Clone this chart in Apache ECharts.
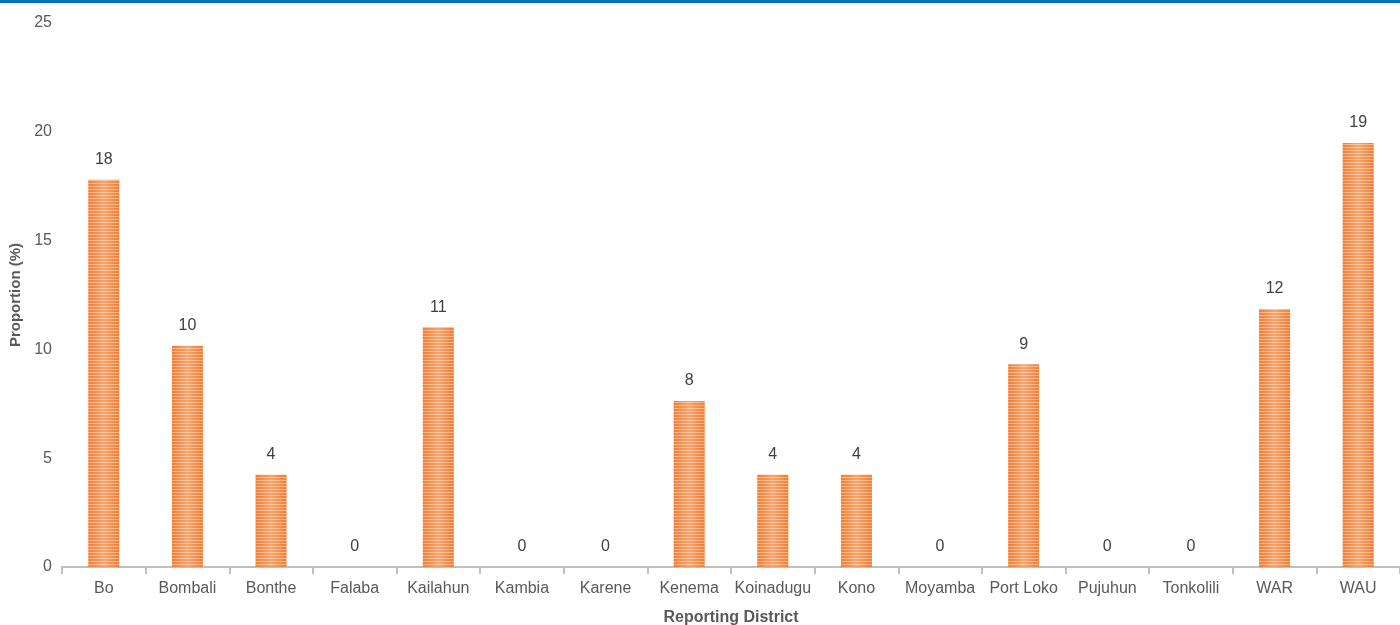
<!DOCTYPE html>
<html><head><meta charset="utf-8">
<script src="https://cdn.jsdelivr.net/npm/echarts@6/dist/echarts.min.js"></script>
<style>html,body{margin:0;padding:0;background:#fff}#c{width:1400px;height:625px}</style>
</head><body><div id="c"></div>
<script>
const districts = ['Bo','Bombali','Bonthe','Falaba','Kailahun','Kambia','Karene','Kenema','Koinadugu','Kono','Moyamba','Port Loko','Pujuhun','Tonkolili','WAR','WAU'];
const proportions = [17.80, 10.17, 4.24, 0, 11.02, 0, 0, 7.63, 4.24, 4.24, 0, 9.32, 0, 0, 11.86, 19.49];
const yTicks = [0, 5, 10, 15, 20, 25];

const chart = echarts.init(document.getElementById('c'), null, {renderer:'canvas'});
chart.setOption({
  animation: false,
  graphic: [{type:'rect', left:0, top:0, shape:{width:1400, height:3}, style:{fill:'#0070C0'}}],
  grid: {left:62, right:0, top:23, bottom:58, containLabel:false, outerBoundsMode:'none'},
  xAxis: {
    type:'category', data: districts,
    name:'Reporting District', nameLocation:'middle', nameGap:43,
    nameTextStyle:{fontFamily:'Liberation Sans', fontWeight:'bold', fontSize:16, color:'#595959'},
    axisLine:{lineStyle:{color:'#bfbfbf', width:2}},
    axisTick:{show:true, length:7, lineStyle:{color:'#bfbfbf', width:2}},
    axisLabel:{fontFamily:'Liberation Sans', fontSize:16, color:'#595959', margin:14, interval:0}
  },
  yAxis: {
    type:'value', min:yTicks[0], max:yTicks[yTicks.length-1], interval:5,
    name:'Proportion (%)', nameLocation:'middle', nameGap:34, nameRotate:90,
    nameTextStyle:{fontFamily:'Liberation Sans', fontWeight:'bold', fontSize:15, color:'#595959'},
    axisLine:{show:false}, axisTick:{show:false}, splitLine:{show:false},
    axisLabel:{fontFamily:'Liberation Sans', fontSize:16, color:'#595959', margin:10}
  },
  series: [{
    type:'bar', data: proportions, barWidth:31,
    itemStyle:{
      color: new echarts.graphic.LinearGradient(0,0,1,0,[
        {offset:0, color:'#F07D32'},{offset:0.5, color:'#F6A66E'},{offset:1, color:'#F07D32'}
      ]),
      decal:{symbol:'rect', symbolSize:1, dashArrayX:[[40,0]], dashArrayY:[1,2], rotation:0, color:'rgba(255,255,255,0.4)'}
    },
    label:{show:true, position:'top', distance:12, fontFamily:'Liberation Sans', fontSize:16, color:'#404040',
      formatter: p => Math.round(p.value)}
  }]
});
</script></body></html>
